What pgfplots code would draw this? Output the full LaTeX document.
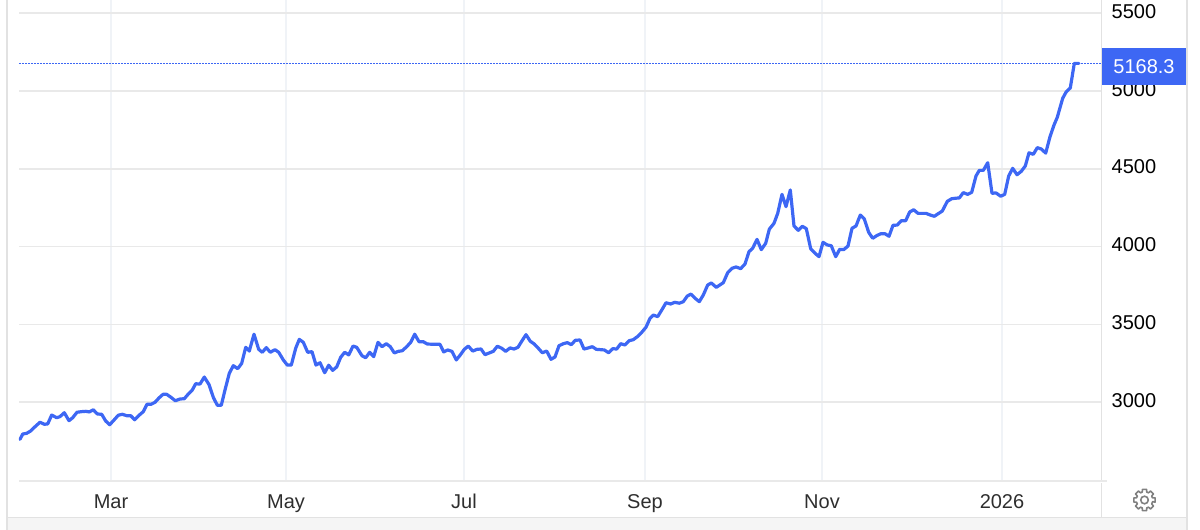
\documentclass[border=0pt]{standalone}
\usepackage{pgfplots}
\usepackage{pgfplotstable}
\usepackage{fontspec}
\setmainfont{Liberation Sans}
\pgfplotsset{compat=1.18}

\definecolor{lineblue}{HTML}{3D67F4}
\definecolor{hgrid}{HTML}{E9E9E9}
\definecolor{vgrid}{HTML}{F0F3F7}
\definecolor{frame}{HTML}{E2E2E2}
\definecolor{band}{HTML}{F5F5F5}
\definecolor{geargray}{HTML}{808080}

% x = position along the time axis, y = price
\pgfplotstableread{
x y
20 2762
22.7 2796
26.7 2801
30.7 2816
35 2843
40 2872
44.3 2859
47.7 2861
51.7 2918
56.7 2901
60 2908
64.3 2933
69 2882
72.7 2901
77 2936
81.7 2940
86 2942
89.3 2938
93.3 2952
97.3 2925
101.7 2923
105.7 2880
109.7 2856
114 2886
118.3 2917
122.3 2923
126.7 2914
130.7 2914
134.7 2888
139.3 2918
143.3 2940
147 2987
151 2987
155 3000
159 3028
163 3051
166.7 3051
171 3032
175.3 3010
180 3021
184.3 3023
188.3 3053
192.3 3079
195.7 3119
200 3117
204.3 3162
209 3114
213.3 3032
217.3 2981
221.3 2981
225 3079
229.3 3186
233.3 3235
237.7 3216
241.7 3250
245.7 3353
249.3 3329
254 3437
258.7 3340
262.3 3321
266.3 3351
270.3 3321
275 3338
278.7 3321
283.3 3272
287.3 3239
291.3 3239
295.7 3347
299.3 3404
303.3 3385
307.7 3321
312 3325
316 3239
320 3254
324.7 3190
328.7 3238
332.7 3205
336.7 3227
340.7 3289
344.7 3321
348.7 3304
353 3361
356.7 3353
362 3299
365.7 3286
369.7 3321
373.7 3293
378 3385
382 3357
386.3 3376
390.3 3357
394.3 3317
398.3 3327
402.3 3331
406.7 3357
410.7 3385
414.7 3437
419 3389
423.3 3389
427.3 3374
431.5 3373
436 3373
440 3372
443.7 3323
447.7 3336
452 3327
456.3 3272
460.3 3304
464.3 3340
468.3 3361
472.7 3329
477 3340
481 3342
485 3306
489.3 3317
493.3 3327
497.3 3360
501.7 3347
505.7 3327
510 3349
514 3342
518 3353
522 3395
526 3434
530.3 3392
534.3 3374
538.3 3347
542.3 3318
546.7 3329
551 3276
555 3291
559 3363
563.3 3376
567.3 3383
571.3 3370
575.3 3398
580 3400
584 3342
588.3 3349
592.3 3357
596.3 3340
600.3 3338
604.3 3336
608.7 3318
612.7 3344
616.7 3342
620.7 3376
625 3368
629 3395
633.3 3402
637.3 3421
641.7 3449
646 3482
650 3539
653.3 3560
657.7 3550
662 3595
666 3639
670.7 3631
674.7 3642
679.3 3636
683.3 3646
687.3 3682
691 3695
695 3668
699.3 3646
703.3 3689
707.7 3753
711.3 3766
716.3 3738
723.3 3768
727.7 3832
732 3860
736 3869
740.7 3858
745 3888
749 3967
752.7 3989
757 4046
761.3 3980
765.7 4021
769.3 4111
774 4149
777.7 4213
782 4335
786 4256
790.3 4363
794 4132
798.3 4104
802.3 4130
806.3 4115
810.7 3986
815 3957
819 3935
823 4027
827.3 4010
831.3 4005
835.7 3935
839.7 3982
843.7 3980
848 4003
852 4117
856 4132
860.3 4202
864.3 4177
868.7 4091
872.7 4053
876.7 4070
880.7 4082
885 4082
889 4066
893 4136
897.3 4138
901.3 4166
905.7 4166
909.7 4222
913.7 4236
918 4213
922 4213
926 4213
930 4203
934.3 4194
938 4210
942.3 4228
947.3 4290
951.7 4307
955.5 4310
959.3 4312
963.3 4346
967.7 4335
971.7 4348
976 4453
979.3 4489
983.3 4489
987.7 4538
992 4342
996 4344
1000.7 4323
1004.7 4335
1008.7 4453
1012.7 4502
1017 4461
1021.3 4483
1025.3 4517
1029 4602
1033.3 4592
1037.3 4635
1041.3 4626
1045.7 4600
1050 4705
1054 4780
1057.3 4830
1062.7 4952
1066.3 4994
1070.3 5018
1074.3 5176
1079 5176
}\gold

\begin{document}
\begin{tikzpicture}[x=0.5pt,y=0.5pt]
% page is 1200x530 px, 1 px = 0.5pt, y counted from the bottom
\path[use as bounding box] (0,0) rectangle (1200,530);

% page furniture
\fill[band] (8,0) rectangle (1186,12);
\draw[frame,line width=0.6pt] (8,12.5) -- (1186,12.5);
\draw[frame,line width=0.9pt] (7.3,0) -- (7.3,530);
\draw[frame,line width=0.9pt] (1186.8,0) -- (1186.8,530);
\draw[frame,line width=0.6pt] (1101.7,13) -- (1101.7,47);
\draw[frame,line width=0.6pt] (1101.7,50) -- (1101.7,530);

\begin{axis}[
    at={(9.5pt,24.5pt)}, anchor=south west,
    scale only axis,
    width=541pt, height=240.5pt,
    xmin=19, xmax=1101,
    ymin=2494.7, ymax=5582.8,
    axis line style={draw=none},
    major tick length=0pt,
    xtick={111,286,464,645,822,1002},
    xticklabels={Mar,May,Jul,Sep,Nov,2026},
    ytick={3000,3500,4000,4500,5000,5500},
    yticklabel pos=right,
    xmajorgrids, ymajorgrids,
    x grid style={vgrid,line width=0.8pt},
    y grid style={hgrid,line width=0.9pt},
    /pgf/number format/assume math mode=true,
    /pgf/number format/1000 sep={},
    y tick label style={font=\fontsize{10}{12}\selectfont,text=black,anchor=west,xshift=1.8pt,yshift=0.8pt},
    x tick label style={font=\fontsize{10}{12}\selectfont,text=black!82,anchor=base,yshift=-14pt},
]
\addplot[lineblue,line width=0.7pt,dash pattern=on 1pt off 0.5pt] coordinates {(19,5176) (1101,5176)};
\addplot[lineblue,line width=1.6pt,line join=round,line cap=round] table[x=x,y=y] {\gold};
\end{axis}

% axis base line
\draw[hgrid,line width=1.1pt] (19,49.2) -- (1107,49.2);

% last value tag
\fill[lineblue] (1102,445) rectangle (1186,482);
\node[text=white,font=\fontsize{10}{12}\selectfont] at (1144,463.5) {5168.3};

% settings gear
\begin{scope}[shift={(1144.5,30)}]
\draw[geargray,line width=0.8pt,line join=round]
  (-11.25:8.2)
  \foreach \a in {0,45,...,315} {
    -- (\a-11.25:10.8) -- (\a+11.25:10.8) -- (\a+16:8.2) -- (\a+29:8.2)
  } -- cycle;
\draw[geargray,line width=0.8pt] (0,0) circle (3.8);
\end{scope}
\end{tikzpicture}
\end{document}
